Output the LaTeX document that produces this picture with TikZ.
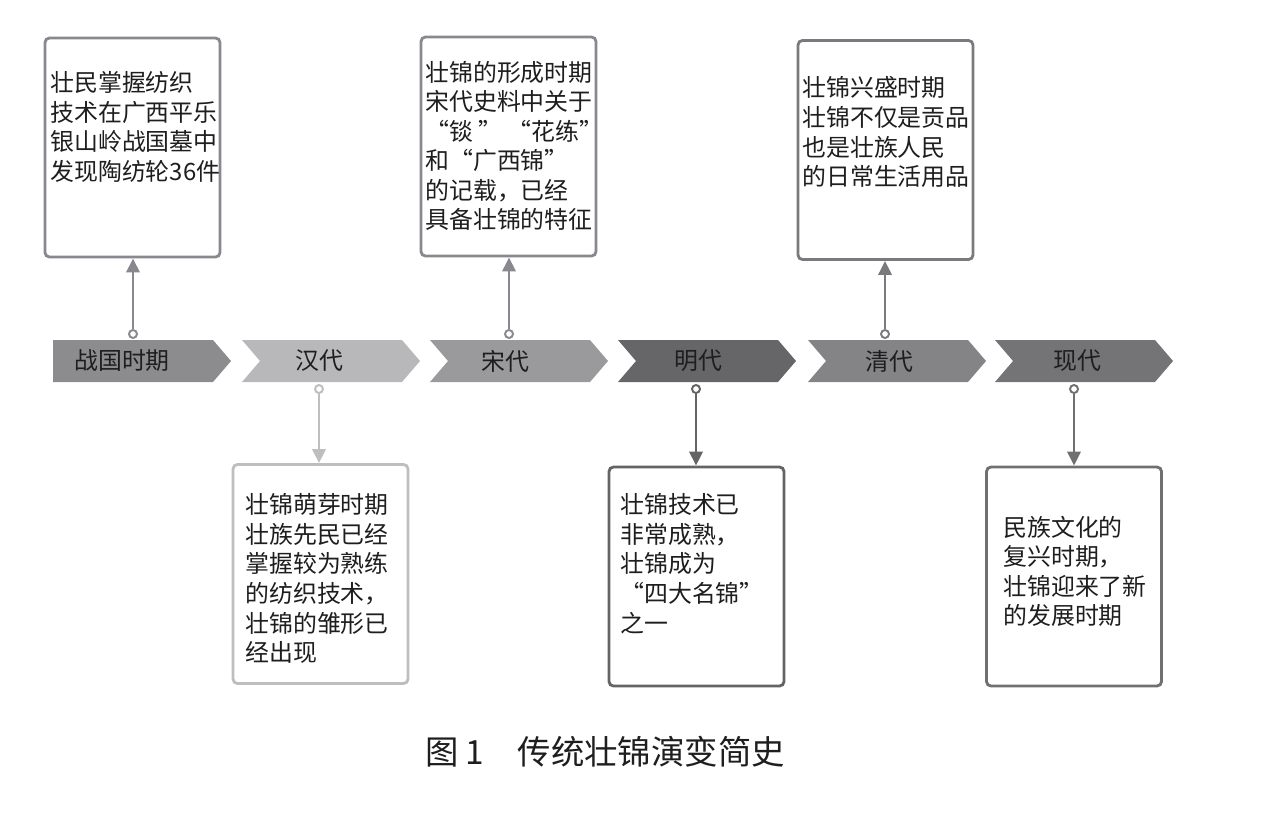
\documentclass[tikz,border=0pt]{standalone}
\usepackage{fontspec}
\newfontfamily\cjk{Noto Sans CJK SC}
\usetikzlibrary{arrows.meta}
\definecolor{eraA}{RGB}{140,140,143}
\definecolor{eraB}{RGB}{184,184,186}
\definecolor{eraC}{RGB}{154,154,157}
\definecolor{eraD}{RGB}{102,102,105}
\definecolor{eraE}{RGB}{132,132,135}
\definecolor{eraF}{RGB}{116,116,119}
\definecolor{lineMid}{RGB}{136,136,142}
\definecolor{lineLight}{RGB}{190,190,190}
\definecolor{lineDark}{RGB}{100,100,102}
\definecolor{lineQing}{RGB}{122,122,126}
\definecolor{lineXian}{RGB}{112,112,114}
\definecolor{inkGray}{RGB}{30,30,30}
\tikzset{
  era/.style={font=\cjk\fontsize{13.6pt}{16.8pt}\selectfont, text=inkGray, inner sep=0pt},
  infobox/.style={draw=#1, line width=1.6pt, rounded corners=2.5pt, fill=white,
    minimum width=3.5cm, minimum height=4.38cm, inner sep=0pt},
  infobox/.default=lineMid,
  notetext/.style={anchor=north west, align=left, inner sep=0pt, text=inkGray,
    font=\cjk\fontsize{13.6pt}{16.8pt}\selectfont},
  pinmark/.style={circle, draw=#1, line width=1.1pt, fill=white, minimum size=0.16cm, inner sep=0pt},
  pinmark/.default=lineMid,
  link/.style={draw=#1, line width=1.6pt, -{Triangle[length=8pt,width=7.5pt]}},
  link/.default=lineMid,
  caption/.style={font=\cjk\fontsize{19pt}{21pt}\selectfont, text=inkGray, inner sep=0pt}
}
\begin{document}
\begin{tikzpicture}[x=0.02cm,y=-0.02cm]
  \useasboundingbox (0,0) rectangle (1263,816);
  % timeline chevrons
  \foreach \lx/\nd/\col/\nm/\tx/\txt in {53/0/eraA/zg/122/战国时期, 242/18/eraB/han/319/汉代,
      430/18/eraC/song/505/宋代, 618/18/eraD/ming/698/明代,
      808/18/eraE/qing/889/清代, 995/18/eraF/xian/1077/现代}{
    \fill[\col] (\lx,340) -- ++(160,0) -- ++(18,21) -- ++(-18,21) -- ++(-160,0) -- ++(\nd,-21) -- cycle;
    \node[era] (\nm) at (\tx,361) {\txt};
  }
  % boxes above
  \node[infobox] (zg-box) at (132.5,147.5) {};
  \node[infobox] (song-box) at (508.5,146.5) {};
  \node[infobox=lineQing] (qing-box) at (885.5,150) {};
  % boxes below
  \node[infobox=lineLight] (han-box) at (320.5,574) {};
  \node[infobox=lineDark] (ming-box) at (696.5,576.5) {};
  \node[infobox=lineXian] (xian-box) at (1074,576.5) {};
  % texts
  \node[notetext] (zg-text) at (50,71.5) {壮民掌握纺织\\技术在广西平乐\\银山岭战国墓中\\发现陶纺轮36件};
  \node[notetext] (song-text) at (425,60.5) {壮锦的形成时期\\宋代史料中关于\\“锬 ” “花练”\\和“广西锦”\\的记载，已经\\具备壮锦的特征};
  \node[notetext] (qing-text) at (802,76.5) {壮锦兴盛时期\\壮锦不仅是贡品\\也是壮族人民\\的日常生活用品};
  \node[notetext] (han-text) at (245,493.5) {壮锦萌芽时期\\壮族先民已经\\掌握较为熟练\\的纺织技术，\\壮锦的雏形已\\经出现};
  \node[notetext] (ming-text) at (620,493.5) {壮锦技术已\\非常成熟，\\壮锦成为\\“四大名锦”\\之一};
  \node[notetext] (xian-text) at (1003,515.5) {民族文化的\\复兴时期，\\壮锦迎来了新\\的发展时期};
  % pins and links
  \node[pinmark] (zg-pin) at (133,334) {};
  \node[pinmark] (song-pin) at (509,334) {};
  \node[pinmark=lineQing] (qing-pin) at (885,334) {};
  \node[pinmark=lineLight] (han-pin) at (319,389) {};
  \node[pinmark=lineDark] (ming-pin) at (696,389) {};
  \node[pinmark=lineXian] (xian-pin) at (1074,389) {};
  \draw[link] (zg-pin) -- (zg-pin |- zg-box.south);
  \draw[link] (song-pin) -- (song-pin |- song-box.south);
  \draw[link=lineQing] (qing-pin) -- (qing-pin |- qing-box.south);
  \draw[link=lineLight] (han-pin) -- (han-pin |- han-box.north);
  \draw[link=lineDark] (ming-pin) -- (ming-pin |- ming-box.north);
  \draw[link=lineXian] (xian-pin) -- (xian-pin |- xian-box.north);
  % caption
  \node[caption] (title) at (605,752) {图 1\quad 传统壮锦演变简史};
\end{tikzpicture}
\end{document}
